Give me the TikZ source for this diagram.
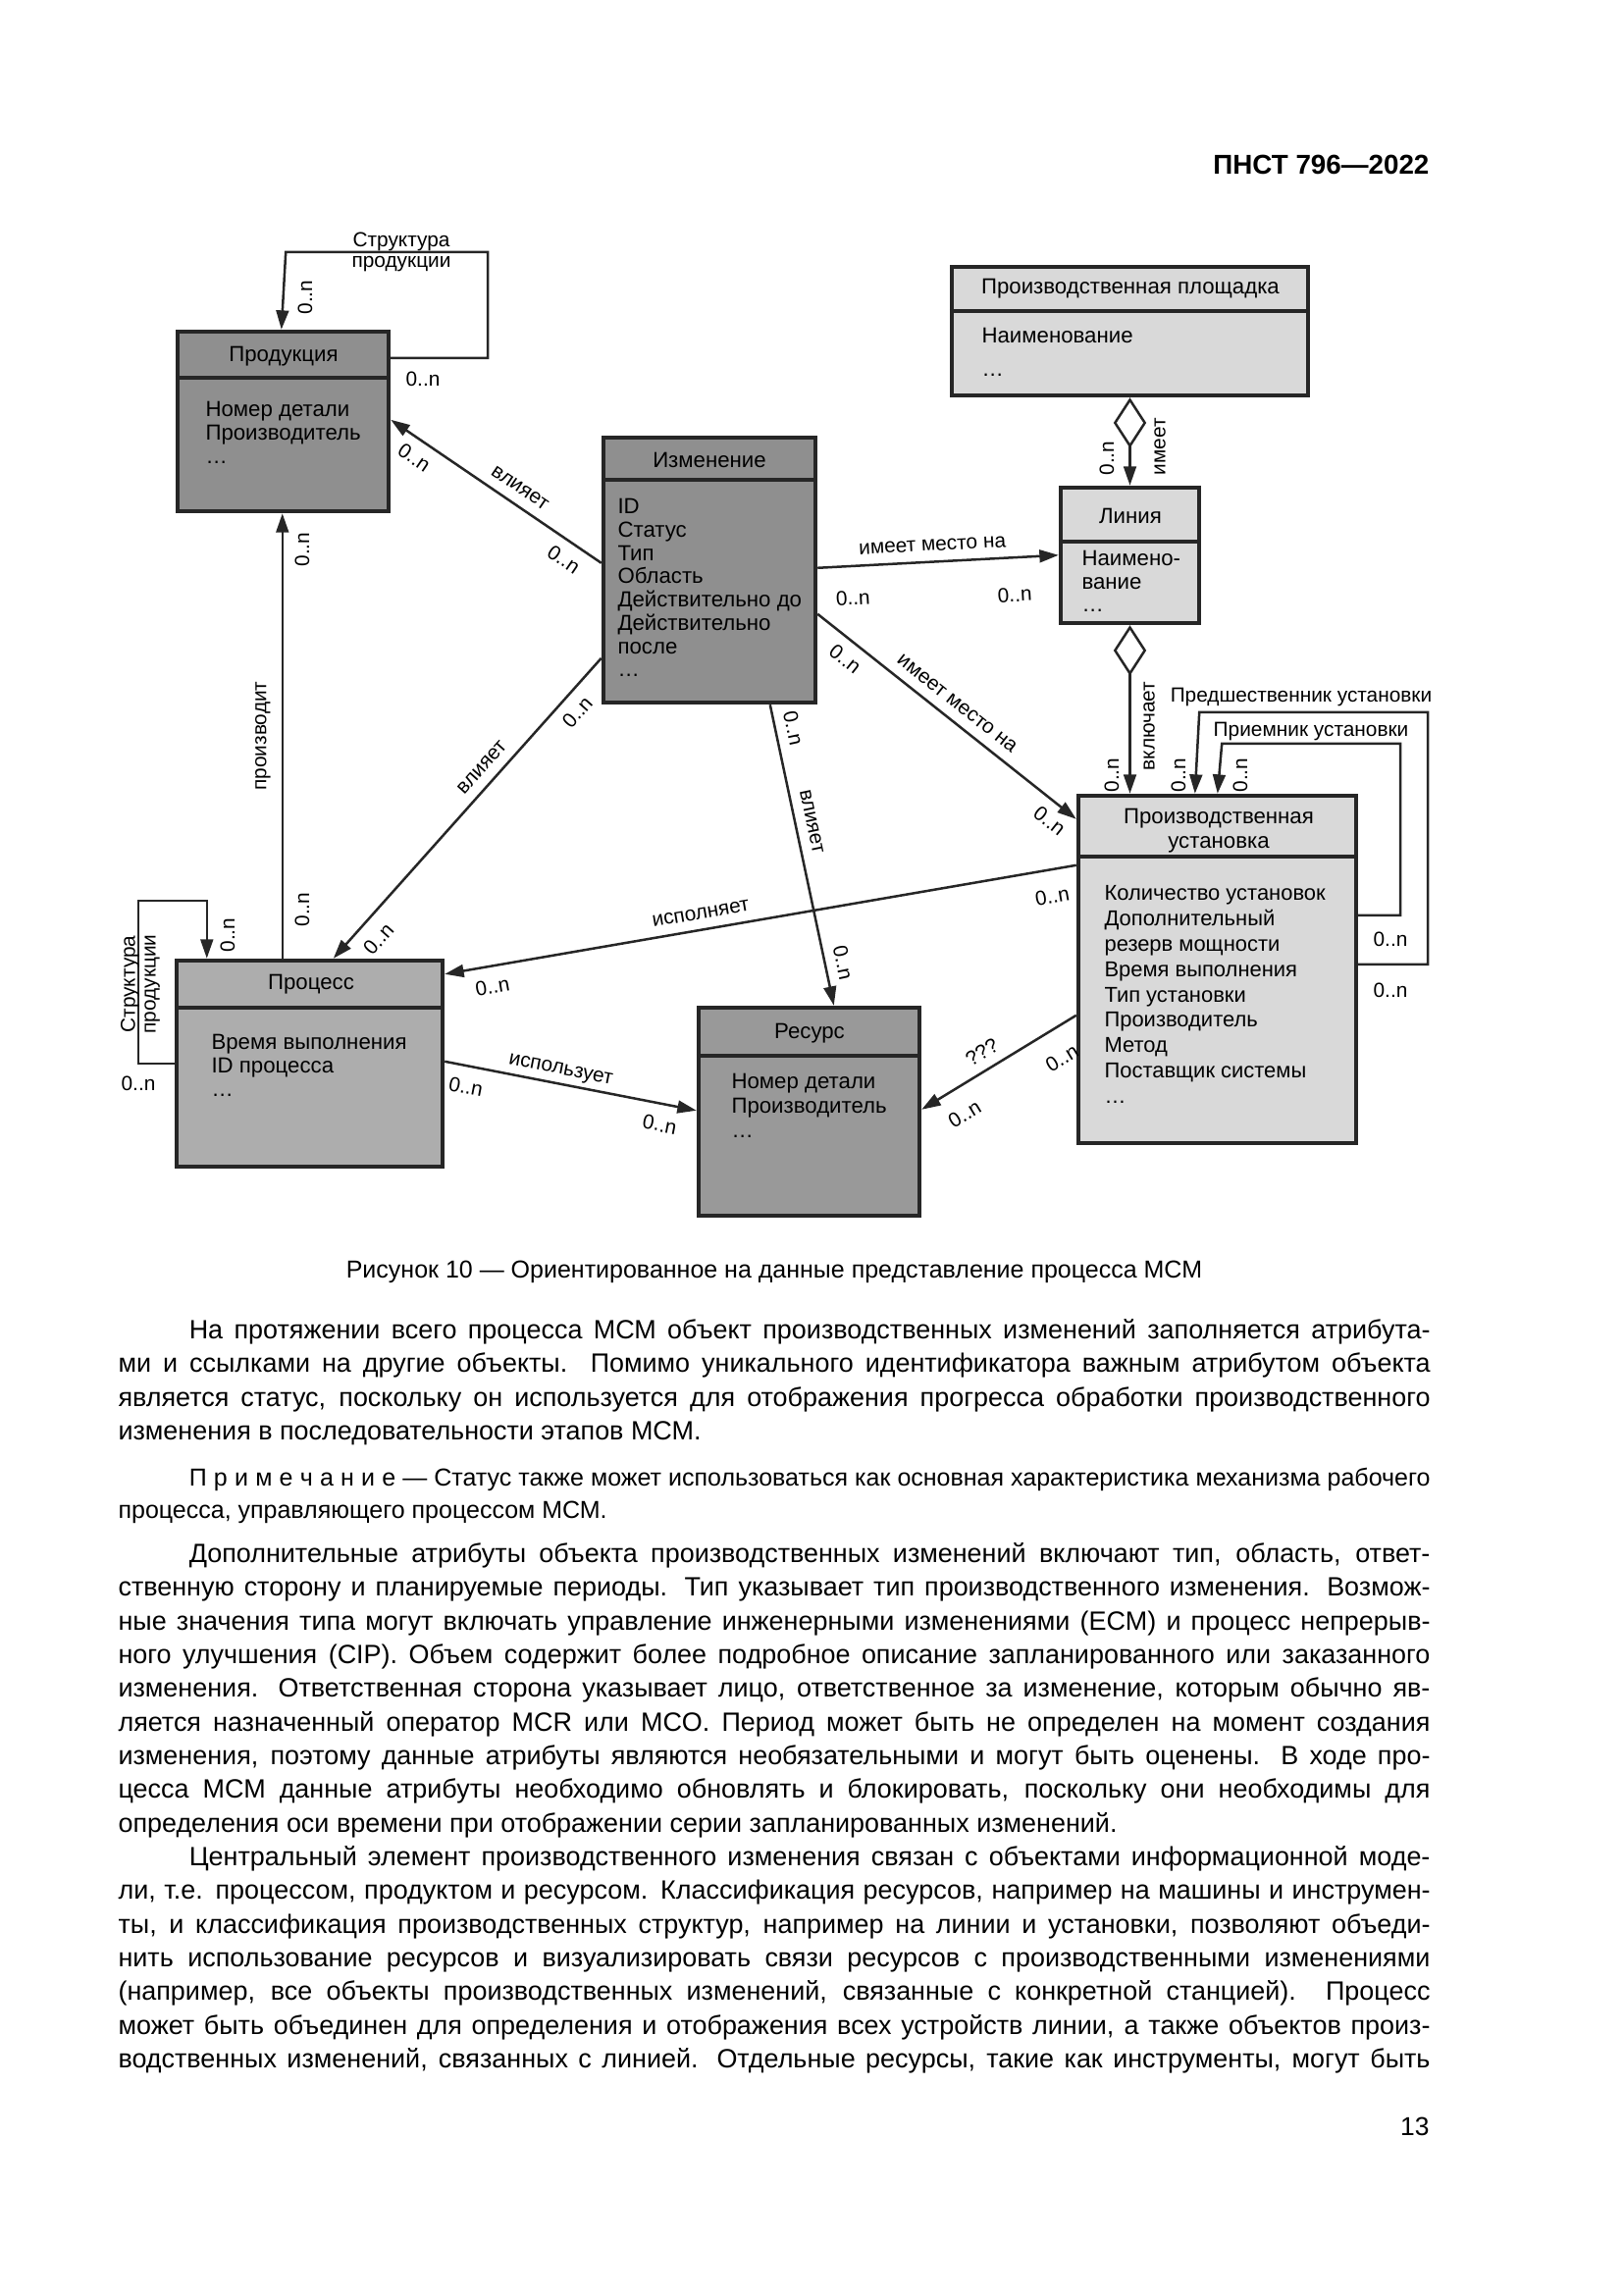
\documentclass[tikz,border=0pt]{standalone}
\usepackage{fontspec}
\setmainfont{Liberation Sans}
\usetikzlibrary{arrows.meta,calc,fit}

\definecolor{boxdark}{gray}{0.56}
\definecolor{boxres}{gray}{0.6}
\definecolor{boxmid}{gray}{0.68}
\definecolor{boxlight}{gray}{0.85}

\newcommand{\bodypar}[1]{\parbox[t]{481.3pt}{\hyphenpenalty=10000 \tolerance=9999 \hskip26pt\relax #1}}

\begin{document}
\begin{tikzpicture}[x=0.36pt,y=-0.36pt,
    cls/.style={draw=black!85,line width=1.6pt,inner sep=0pt},
    ttl/.style={font=\fontsize{8}{8.3}\selectfont,align=center,inner sep=0pt},
    att/.style={font=\fontsize{8}{8.6}\selectfont,align=left,anchor=north west,inner sep=0pt},
    lbl/.style={font=\fontsize{7.5}{7.6}\selectfont,inner sep=1.5pt},
    conn/.style={line width=0.9pt,draw=black!85},
    arr/.style={-{Triangle[length=7pt,width=4.6pt]}},
    rarr/.style={{Triangle[length=7pt,width=4.6pt]}-},
    agg/.style={{Diamond[open,length=18.5pt,width=12pt]}-{Triangle[length=7pt,width=4.6pt]}},
    body/.style={anchor=north west,inner sep=0pt,font=\fontsize{9.7}{12.35}\selectfont}]

  \useasboundingbox (0,0) rectangle (1654,2339);

  % page head
  \node[anchor=east,inner sep=0pt,font=\fontsize{10}{12}\selectfont\bfseries] (head) at (1457,168) {ПНСТ 796—2022};

  % classes
  \node[cls,fill=boxdark,fit={(181,338) (396,521)}] (prod) {};
  \draw[cls] ($(prod.north west)+(0,49)$) -- ($(prod.north east)+(0,49)$);
  \node[ttl] (prodT) at (289,363) {Продукция};
  \node[att] (prodA) at (209,409) {Номер детали\\Производитель\\\dots};

  \node[cls,fill=boxdark,fit={(615,446) (831,716)}] (izm) {};
  \draw[cls] ($(izm.north west)+(0,45)$) -- ($(izm.north east)+(0,45)$);
  \node[ttl] (izmT) at (723,469) {Изменение};
  \node[att,font=\fontsize{8}{8.53}\selectfont] (izmA) at (629,508) {ID\\Статус\\Тип\\Область\\Действительно до\\Действительно\\после\\\dots};

  \node[cls,fill=boxlight,fit={(970,272) (1333,403)}] (plosh) {};
  \draw[cls] ($(plosh.north west)+(0,47)$) -- ($(plosh.north east)+(0,47)$);
  \node[ttl] (ploshT) at (1152,294) {Производственная площадка};
  \node[att,font=\fontsize{8}{12}\selectfont] (ploshA) at (1000,334) {Наименование\\\dots};

  \node[cls,fill=boxlight,fit={(1081,497) (1222,635)}] (lin) {};
  \draw[cls] ($(lin.north west)+(0,57)$) -- ($(lin.north east)+(0,57)$);
  \node[ttl] (linT) at (1152,526) {Линия};
  \node[att,font=\fontsize{8}{8.4}\selectfont] (linA) at (1102,561) {Наимено-\\вание\\\dots};

  \node[cls,fill=boxlight,fit={(1099,811) (1382,1165)}] (ust) {};
  \draw[cls] ($(ust.north west)+(0,64)$) -- ($(ust.north east)+(0,64)$);
  \node[ttl,font=\fontsize{8}{9}\selectfont] (ustT) at (1242,847) {Производственная\\установка};
  \node[att,font=\fontsize{7.9}{9.3}\selectfont] (ustA) at (1125,902) {Количество установок\\Дополнительный\\резерв мощности\\Время выполнения\\Тип установки\\Производитель\\Метод\\Поставщик системы\\\dots};

  \node[cls,fill=boxmid,fit={(180,979) (451,1189)}] (proc) {};
  \draw[cls] ($(proc.north west)+(0,50)$) -- ($(proc.north east)+(0,50)$);
  \node[ttl] (procT) at (317,1003) {Процесс};
  \node[att] (procA) at (215,1054) {Время выполнения\\ID процесса\\\dots};

  \node[cls,fill=boxres,fit={(712,1027) (937,1239)}] (res) {};
  \draw[cls] ($(res.north west)+(0,51)$) -- ($(res.north east)+(0,51)$);
  \node[ttl] (resT) at (825,1053) {Ресурс};
  \node[att,font=\fontsize{8}{8.9}\selectfont] (resA) at (745,1094) {Номер детали\\Производитель\\\dots};

  % self loops
  \draw[conn,arr] ($(prod.north east)+(0,29)$) -- ++(99,0) -- ++(0,-108) -- ++(-206,0) -- ($(prod.north west)+(108,0)$);
  \node[lbl,align=center,inner sep=0pt] (prodL) at (409,257) {Структура\\продукции};
  \node[lbl,rotate=90] (prodM1) at (311,303) {0..n};
  \node[lbl] (prodM2) at (431,386) {0..n};

  \draw[conn,arr] ($(proc.north west)+(0,107)$) -- ++(-37,0) -- ++(0,-166) -- ++(70,0) -- ($(proc.north west)+(33,0)$);
  \node[lbl,align=center,inner sep=0pt,rotate=90] (procL) at (143,1003) {Структура\\продукции};
  \node[lbl,rotate=90] (procM1) at (232,953) {0..n};
  \node[lbl] (procM2) at (141,1104) {0..n};

  \draw[conn,arr] ($(ust.north east)+(0,174)$) -- ++(71,0) -- ++(0,-257) -- ++(-233,0) -- ($(ust.north west)+(121,0)$);
  \node[lbl] (ustL1) at (1326,710) {Предшественник установки};
  \node[lbl,rotate=90] (ustM1) at (1201,790) {0..n};
  \node[lbl] (ustM2) at (1417,1009) {0..n};

  \draw[conn,arr] ($(ust.north east)+(0,124)$) -- ++(43,0) -- ++(0,-175) -- ++(-182,0) -- ($(ust.north west)+(144,0)$);
  \node[lbl] (ustL2) at (1336,745) {Приемник установки};
  \node[lbl,rotate=90] (ustM3) at (1264,790) {0..n};
  \node[lbl] (ustM4) at (1417,957) {0..n};

  % aggregations
  \draw[conn,agg] (plosh.south) -- (lin.north);
  \node[lbl,rotate=90] (ploshM) at (1128,467) {0..n};
  \node[lbl,rotate=90] (ploshL) at (1182,455) {имеет};

  \draw[conn,agg] (lin.south) -- (lin.south |- ust.north);
  \node[lbl,rotate=90] (linM) at (1133,790) {0..n};
  \node[lbl,rotate=90] (linL) at (1171,740) {включает};

  % associations
  \draw[conn,arr] ($(proc.north west)+(110,0)$) -- ($(prod.south west)+(109,0)$);
  \node[lbl,rotate=90] (prodM3) at (268,750) {производит};
  \node[lbl,rotate=90] (prodM4) at (308,560) {0..n};
  \node[lbl,rotate=90] (procM3) at (308,927) {0..n};

  \draw[conn,rarr] ($(prod.north east)+(0,92)$) --
    node[lbl,sloped,pos=0.16,below=2pt] {0..n}
    node[lbl,sloped,pos=0.57,above=2pt] {влияет}
    node[lbl,sloped,pos=0.87,below=2pt] {0..n} ($(izm.north west)+(0,130)$);

  \draw[conn,rarr] ($(proc.north west)+(162,0)$) --
    node[lbl,sloped,pos=0.11,below=3pt] {0..n}
    node[lbl,sloped,pos=0.6,above=2pt] {влияет}
    node[lbl,sloped,pos=0.86,below=2pt] {0..n} ($(izm.north west)+(0,227)$);

  \draw[conn,arr] ($(izm.north east)+(0,135)$) --
    node[lbl,sloped,pos=0.14,below=7pt] {0..n}
    node[lbl,sloped,pos=0.48,above=2pt] {имеет место на}
    node[lbl,sloped,pos=0.81,below=9pt] {0..n} ($(lin.north west)+(0,71)$);

  \draw[conn,arr] ($(izm.north east)+(0,182)$) --
    node[lbl,sloped,pos=0.15,below=2pt] {0..n}
    node[lbl,sloped,pos=0.5,above=2pt] {имеет место на}
    node[lbl,sloped,pos=0.94,below=2pt] {0..n} ($(ust.north west)+(0,26)$);

  \draw[conn,arr] ($(izm.south west)+(172,0)$) --
    node[lbl,sloped,pos=0.09,above=2pt] {0..n}
    node[lbl,sloped,pos=0.4,above=2pt] {влияет}
    node[lbl,sloped,pos=0.87,above=2pt] {0..n} ($(res.north west)+(140,0)$);

  \draw[conn,rarr] ($(proc.north east)+(0,16)$) --
    node[lbl,sloped,pos=0.07,below=3pt] {0..n}
    node[lbl,sloped,pos=0.41,above=2pt] {исполняет}
    node[lbl,sloped,pos=0.955,below=5pt] {0..n} ($(ust.north west)+(0,73)$);

  \draw[conn,arr] ($(proc.north east)+(0,105)$) --
    node[lbl,sloped,pos=0.1,below=3pt] {0..n}
    node[lbl,sloped,pos=0.45,above=0pt] {использует}
    node[lbl,sloped,pos=0.87,below=3pt] {0..n} ($(res.north west)+(0,107)$);

  \draw[conn,rarr] ($(res.north east)+(0,106)$) --
    node[lbl,sloped,pos=0.19,below=5pt] {0..n}
    node[lbl,sloped,pos=0.45,above=2pt] {???}
    node[lbl,sloped,pos=0.81,below=6pt] {0..n} ($(ust.north west)+(0,226)$);

  % caption and text
  \node[inner sep=0pt,font=\fontsize{9}{11}\selectfont] (cap) at (789,1296) {Рисунок 10 — Ориентированное на данные представление процесса МСМ};

  \node[body] (par1) at (120,1344) {\bodypar{На протяжении всего процесса МСМ объект производственных изменений заполняется атрибута-\linebreak ми и ссылками на другие объекты. Помимо уникального идентификатора важным атрибутом объекта\linebreak является статус, поскольку он используется для отображения прогресса обработки производственного\linebreak изменения в последовательности этапов МСМ.}};

  \node[body,font=\fontsize{9}{11.9}\selectfont] (note) at (120,1496) {\bodypar{П\kern2.6ptр\kern2.6ptи\kern2.6ptм\kern2.6ptе\kern2.6ptч\kern2.6ptа\kern2.6ptн\kern2.6ptи\kern2.6ptе\ — Статус также может использоваться как основная характеристика механизма рабочего\linebreak процесса, управляющего процессом МСМ.}};

  \node[body] (par2) at (120,1572) {\bodypar{Дополнительные атрибуты объекта производственных изменений включают тип, область, ответ-\linebreak ственную сторону и планируемые периоды. Тип указывает тип производственного изменения. Возмож-\linebreak ные значения типа могут включать управление инженерными изменениями (ECM) и процесс непрерыв-\linebreak ного улучшения (CIP). Объем содержит более подробное описание запланированного или заказанного\linebreak изменения. Ответственная сторона указывает лицо, ответственное за изменение, которым обычно яв-\linebreak ляется назначенный оператор MCR или MCO. Период может быть не определен на момент создания\linebreak изменения, поэтому данные атрибуты являются необязательными и могут быть оценены. В ходе про-\linebreak цесса МСМ данные атрибуты необходимо обновлять и блокировать, поскольку они необходимы для\linebreak определения оси времени при отображении серии запланированных изменений.}};

  \node[body] (par3) at (120,1881) {\bodypar{\parfillskip=0pt Центральный элемент производственного изменения связан с объектами информационной моде-\linebreak ли, т.е. процессом, продуктом и ресурсом. Классификация ресурсов, например на машины и инструмен-\linebreak ты, и классификация производственных структур, например на линии и установки, позволяют объеди-\linebreak нить использование ресурсов и визуализировать связи ресурсов с производственными изменениями\linebreak (например, все объекты производственных изменений, связанные с конкретной станцией). Процесс\linebreak может быть объединен для определения и отображения всех устройств линии, а также объектов произ-\linebreak водственных изменений, связанных с линией. Отдельные ресурсы, такие как инструменты, могут быть}};

  \node[anchor=east,inner sep=0pt,font=\fontsize{9.5}{11}\selectfont] (pnum) at (1457,2167) {13};
\end{tikzpicture}
\end{document}
